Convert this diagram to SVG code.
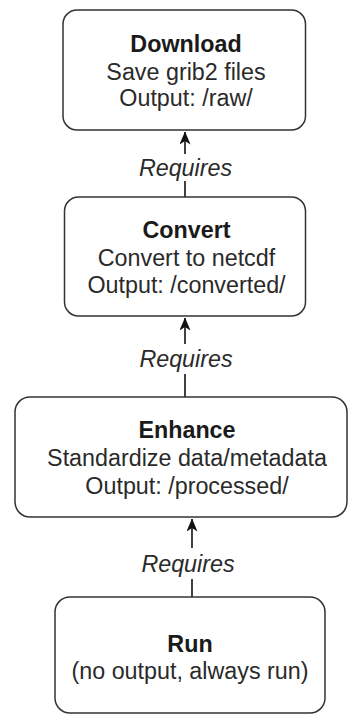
<svg xmlns="http://www.w3.org/2000/svg" width="349" height="716" viewBox="0 0 349 716">
  <style>
    .box { fill: #ffffff; stroke: #333333; stroke-width: 1.5; }
    .t { font-family: "Liberation Sans", Arial, sans-serif; font-size: 23.3px; fill: #2a2a2a; text-anchor: middle; }
    .b { font-weight: bold; fill: #1a1a1a; }
    .lbl { font-family: "Liberation Sans", Arial, sans-serif; font-size: 23.3px; font-style: italic; fill: #2a2a2a; text-anchor: middle; }
    .edge { stroke: #111111; stroke-width: 1.6; fill: none; }
    .bg { fill: #ffffff; stroke: none; }
  </style>
  <defs>
    <marker id="arrow" viewBox="0 0 13 11" refX="12.5" refY="5.5" markerWidth="13" markerHeight="11" markerUnits="userSpaceOnUse" orient="auto">
      <path d="M0,0 L13,5.5 L0,11 L3.5,5.5 Z" fill="#111111"/>
    </marker>
  </defs>
  <rect width="349" height="716" fill="#ffffff"/>

  <g id="connectors">
    <g id="e-convert-download">
      <line class="edge" x1="185" y1="197" x2="185" y2="132" marker-end="url(#arrow)"/>
      <rect class="bg" x="136" y="154" width="98" height="27"/>
      <text class="lbl" x="185.5" y="176">Requires</text>
    </g>
    <g id="e-enhance-convert">
      <line class="edge" x1="185" y1="397" x2="185" y2="318" marker-end="url(#arrow)"/>
      <rect class="bg" x="136" y="344" width="98" height="30"/>
      <text class="lbl" x="186" y="367">Requires</text>
    </g>
    <g id="e-run-enhance">
      <line class="edge" x1="192" y1="597" x2="192" y2="519" marker-end="url(#arrow)"/>
      <rect class="bg" x="140" y="548" width="98" height="31"/>
      <text class="lbl" x="188" y="572">Requires</text>
    </g>
  </g>

  <g id="download">
    <rect class="box" x="63" y="10" width="242.5" height="120" rx="14" ry="14"/>
    <text class="t b" x="186" y="52">Download</text>
    <text class="t" x="186" y="80">Save grib2 files</text>
    <text class="t" x="186" y="106">Output: /raw/</text>
  </g>

  <g id="convert">
    <rect class="box" x="64.5" y="197" width="241" height="119" rx="14" ry="14"/>
    <text class="t b" x="186.5" y="238">Convert</text>
    <text class="t" x="186.5" y="266">Convert to netcdf</text>
    <text class="t" x="186.5" y="293">Output: /converted/</text>
  </g>

  <g id="enhance">
    <rect class="box" x="15" y="397" width="332" height="120" rx="15" ry="15"/>
    <text class="t b" x="187" y="438">Enhance</text>
    <text class="t" x="187" y="466">Standardize data/metadata</text>
    <text class="t" x="187" y="494">Output: /processed/</text>
  </g>

  <g id="run">
    <rect class="box" x="55" y="597" width="270" height="116" rx="15" ry="15"/>
    <text class="t b" x="190" y="652">Run</text>
    <text class="t" x="190" y="679">(no output, always run)</text>
  </g>
</svg>
